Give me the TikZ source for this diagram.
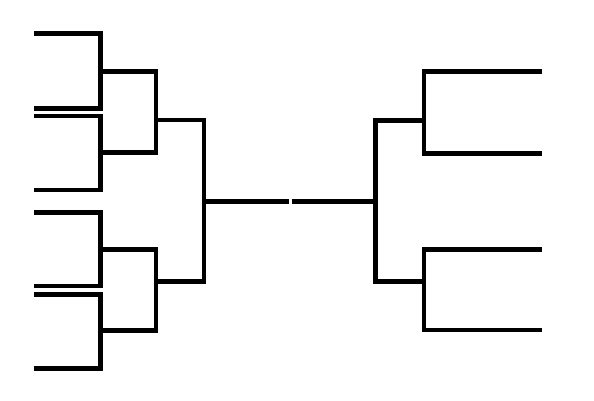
\documentclass[tikz,border=0pt]{standalone}
\begin{document}
\begin{tikzpicture}[x=1pt,y=-1pt,
  bracket/.style={draw=black,line width=4.6pt,line join=miter,line cap=butt}]
\useasboundingbox (0,0) rectangle (594,400);
% left leaves
\coordinate (L1) at (34,33.3);
\coordinate (L2) at (34,108.3);
\coordinate (L3) at (34,116);
\coordinate (L4) at (34,190);
\coordinate (L5) at (34,212.7);
\coordinate (L6) at (34,286);
\coordinate (L7) at (34,294.3);
\coordinate (L8) at (34,368.3);
% left round 1 junctions
\coordinate (A1) at (100.7,71.7);
\coordinate (A2) at (100.7,152.7);
\coordinate (A3) at (100.7,249.3);
\coordinate (A4) at (100.7,330.7);
% left round 2 junctions
\coordinate (B1) at (156,120);
\coordinate (B2) at (156,281.7);
% left round 3 junction
\coordinate (C) at (204,201.7);
% centre
\coordinate (M1) at (289.3,201.7);
\coordinate (M2) at (291.7,201.7);
\coordinate (D) at (375.5,201.7);
% right
\coordinate (E1) at (424,120.7);
\coordinate (E2) at (424,281.7);
\coordinate (R1) at (541.7,71.7);
\coordinate (R2) at (541.7,153.3);
\coordinate (R3) at (541.7,249.3);
\coordinate (R4) at (541.7,330);

% round 1 (left)
\draw[bracket] (L1) -| (A1) |- (L2);
\draw[bracket] (L3) -| (A2) |- (L4);
\draw[bracket] (L5) -| (A3) |- (L6);
\draw[bracket] (L7) -| (A4) |- (L8);
% round 2 (left)
\draw[bracket] (A1) -| (B1) |- (A2);
\draw[bracket] (A3) -| (B2) |- (A4);
% round 3 (left)
\draw[bracket] (B1) -| (C) |- (B2);
% centre
\draw[bracket] (C) -- (M1);
\draw[bracket] (M2) -- (D);
% right
\draw[bracket] (E1) -| (D) |- (E2);
\draw[bracket] (R1) -| (E1) |- (R2);
\draw[bracket] (R3) -| (E2) |- (R4);
\end{tikzpicture}
\end{document}
